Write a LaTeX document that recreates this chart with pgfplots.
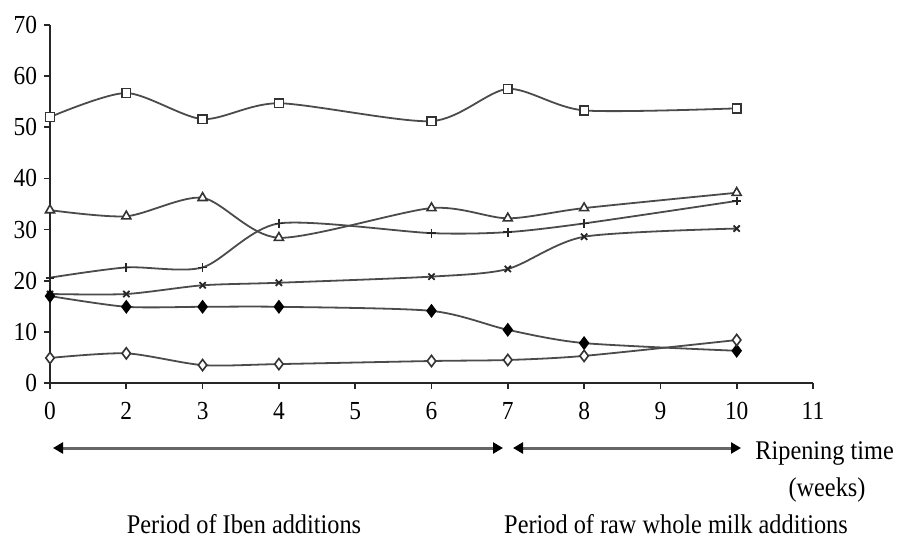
\documentclass[border=0pt]{standalone}
\usepackage{fontspec}
\setmainfont{Liberation Serif}[FakeStretch=0.9]
\usepackage{pgfplots}
\pgfplotsset{compat=1.18}
\usetikzlibrary{arrows.meta}
\definecolor{ln}{RGB}{75,75,75}
\begin{document}
\begin{tikzpicture}
\path[use as bounding box] (-25bp,-77bp) rectangle (424bp,191.5bp);
\begin{axis}[
  scale only axis, width=381.5bp, height=179bp,
  xmin=0, xmax=10, ymin=0, ymax=70,
  axis x line=bottom, axis y line=left,
  axis line style={-, black!85, line width=1.1bp},
  xtick={0,...,10}, xticklabels={0,2,3,4,5,6,7,8,9,10,11},
  ytick={0,10,...,70},
  tick align=outside, major tick length=3bp,
  tick style={black!85, line width=0.9bp},
  ticklabel style={font=\fontsize{13bp}{14bp}\selectfont},
  x tick label style={yshift=-3bp},
  /pgf/number format/assume math mode=true,
  clip=false,
  every axis plot/.append style={ln, line width=0.9bp, smooth, tension=0.45},
]
% open squares
\addplot[mark=square*, mark size=2.2bp, mark options={fill=white, draw=black!80, line width=0.8bp}]
 coordinates {(0,52) (1,56.7) (2,51.6) (3,54.7) (5,51.2) (6,57.5) (7,53.3) (9,53.7)};
% open triangles
\addplot[mark=triangle*, mark size=2.6bp, mark options={fill=white, draw=black!80, line width=0.8bp}]
 coordinates {(0,33.8) (1,32.6) (2,36.2) (3,28.4) (5,34.2) (6,32.2) (7,34.2) (9,37.2)};
% plus
\addplot[mark=+, mark size=2.2bp, mark options={draw=black!85, line width=0.9bp}]
 coordinates {(0,20.6) (1,22.6) (2,22.6) (3,31.2) (5,29.3) (6,29.5) (7,31.2) (9,35.6)};
% x marks
\addplot[mark=x, mark size=2.2bp, mark options={draw=black!85, line width=0.9bp}]
 coordinates {(0,17.4) (1,17.4) (2,19.1) (3,19.6) (5,20.8) (6,22.3) (7,28.6) (9,30.2)};
% filled diamonds
\addplot[mark=diamond*, mark size=2.8bp, mark options={fill=black, draw=black}]
 coordinates {(0,17.0) (1,14.9) (2,14.9) (3,14.9) (5,14.1) (6,10.4) (7,7.8) (9,6.3)};
% open diamonds
\addplot[mark=diamond*, mark size=2.8bp, mark options={fill=white, draw=black!80, line width=0.8bp}]
 coordinates {(0,4.9) (1,5.8) (2,3.5) (3,3.7) (5,4.3) (6,4.5) (7,5.3) (9,8.4)};
\end{axis}
\draw[black!60, line width=1.5bp, {Triangle[length=5bp,width=5.5bp,black]}-{Triangle[length=5bp,width=5.5bp,black]}] (1.5bp,-32.5bp) -- (226.5bp,-32.5bp);
\draw[black!60, line width=1.5bp, {Triangle[length=5bp,width=5.5bp,black]}-{Triangle[length=5bp,width=5.5bp,black]}] (231.5bp,-32.5bp) -- (345.5bp,-32.5bp);
\begin{scope}[every node/.style={inner sep=0pt, font=\fontsize{13.5bp}{15bp}\selectfont}]
\node[anchor=west] at (352.5bp,-35bp) {Ripening time};
\node at (388.5bp,-53.5bp) {(weeks)};
\node at (97bp,-70.5bp) {Period of Iben additions};
\node at (313bp,-70.5bp) {Period of raw whole milk additions};
\end{scope}
\end{tikzpicture}
\end{document}
